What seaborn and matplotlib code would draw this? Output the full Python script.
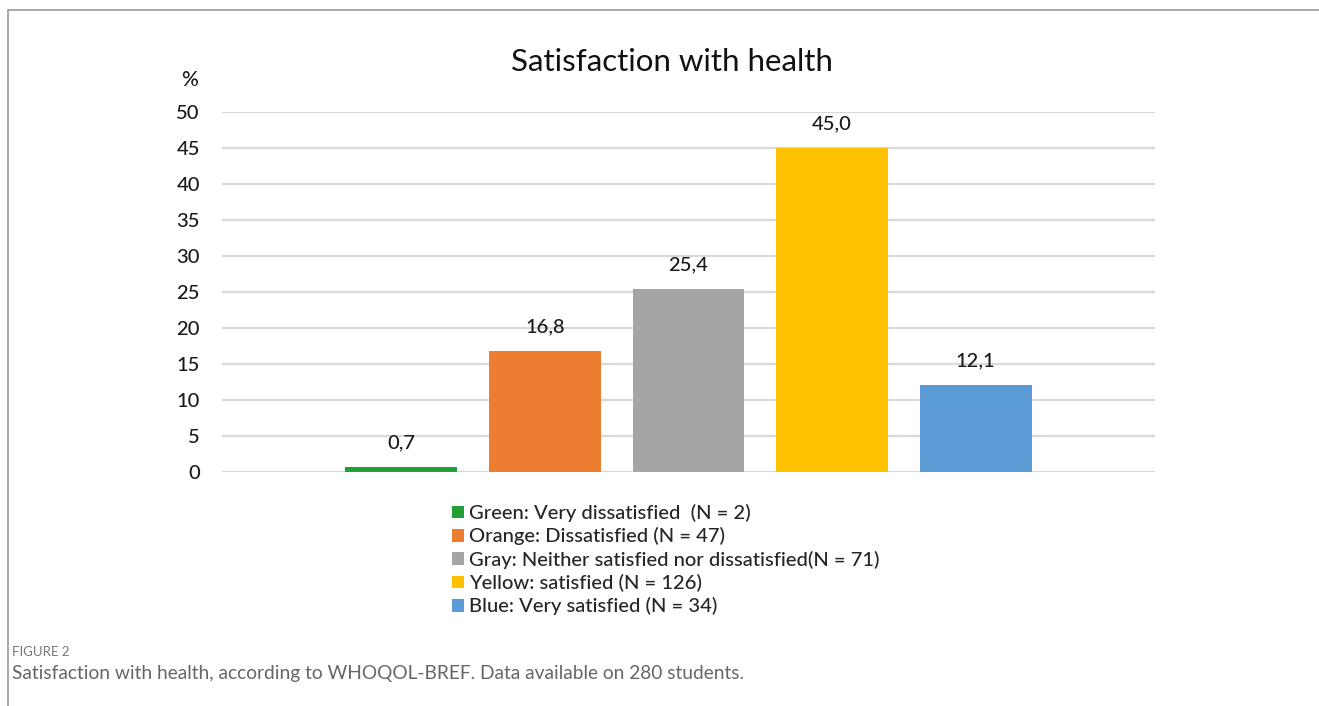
import matplotlib
matplotlib.use("Agg")
import matplotlib.pyplot as plt
import seaborn as sns
import pandas as pd
from matplotlib.lines import Line2D

categories = ["Green: Very dissatisfied  (N = 2)",
              "Orange: Dissatisfied (N = 47)",
              "Gray: Neither satisfied nor dissatisfied(N = 71)",
              "Yellow: satisfied (N = 126)",
              "Blue: Very satisfied (N = 34)"]
values = [0.7, 16.8, 25.4, 45.0, 12.1]
value_labels = ["0,7", "16,8", "25,4", "45,0", "12,1"]
colors = ["#21A038", "#ED7D31", "#A5A5A5", "#FFC000", "#5B9BD5"]
yticks = [0, 5, 10, 15, 20, 25, 30, 35, 40, 45, 50]

sns.set_theme(style="white")
plt.rcParams['font.family'] = ['Lato', 'DejaVu Sans']

df = pd.DataFrame({"cat": categories, "val": values})

fig = plt.figure(figsize=(13.19, 7.06), dpi=100)
ax = fig.add_axes([222/1319, 1-472/706, (1155-222)/1319, (472-112)/706])

sns.barplot(data=df, x="cat", y="val", hue="cat", palette=colors,
            order=categories, hue_order=categories, width=0.78,
            dodge=False, legend=True, ax=ax, saturation=1, linewidth=0)

ax.set_xlim(-1.25, 5.25)
ax.set_ylim(0, 50)
ax.set_yticks(yticks)
ax.set_yticklabels([str(t) for t in yticks], fontsize=14.5, color="#1a1a1a", fontweight="medium")
ax.set_xticks([])
ax.set_xlabel("")
ax.set_ylabel("")
ax.grid(axis="y", color="#D9D9D9", linewidth=1.6)
ax.set_axisbelow(True)
for s in ax.spines.values():
    s.set_visible(False)
ax.tick_params(axis="y", length=0, pad=16)

for i, (v, lab) in enumerate(zip(values, value_labels)):
    ax.annotate(lab, (i, v), xytext=(0, 11), textcoords="offset points",
                ha="center", va="bottom", fontsize=14.5, color="#1a1a1a", fontweight="medium")

fig.text(190/1319, 1-80/706, "%", fontsize=15, ha="center", va="center", color="#1a1a1a", fontweight="medium")
fig.text(672/1319, 1-62/706, "Satisfaction with health", fontsize=22.5, ha="center", va="center", color="#111111")

handles, labels = ax.get_legend_handles_labels()
ax.legend_.remove()
fig.legend(handles, labels, loc="upper left", bbox_to_anchor=(442/1319, 1-494/706),
           frameon=False, handlelength=0.6, handleheight=0.6,
           handletextpad=0.25, labelspacing=0.26, borderpad=0,
           prop={"size": 14.5, "weight": "medium"})

fig.text(12/1319, 1-652/706, "FIGURE 2", fontsize=9.5, color="#777777", ha="left", va="center")
fig.text(12/1319, 1-673/706, "Satisfaction with health, according to WHOQOL-BREF. Data available on 280 students.",
         fontsize=13.8, color="#666666", ha="left", va="center")

fig.add_artist(Line2D([8/1319, 8/1319], [0, 1-10/706], transform=fig.transFigure, color="#9A9A9A", linewidth=1.2))
fig.add_artist(Line2D([8/1319, 1], [1-10/706, 1-10/706], transform=fig.transFigure, color="#9A9A9A", linewidth=1.2))

fig.savefig("out.png", dpi=100)
